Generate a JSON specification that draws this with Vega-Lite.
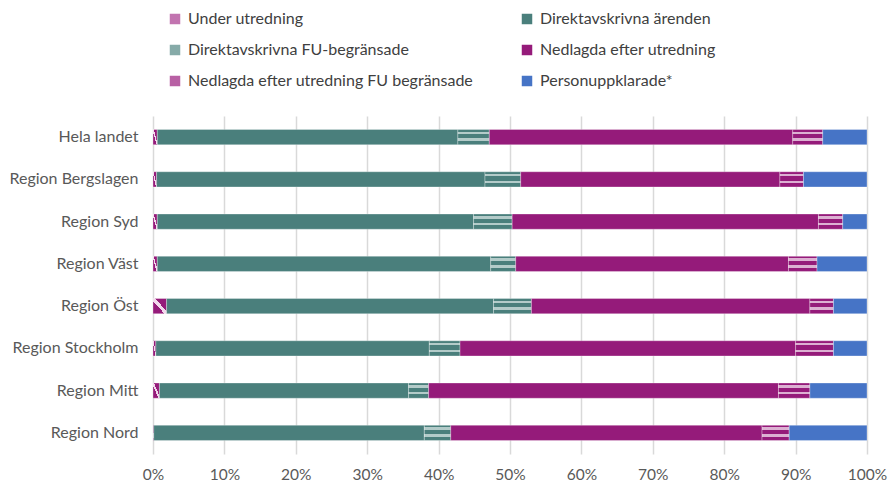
{
  "$schema": "https://vega.github.io/schema/vega-lite/v6.json",
  "width": 714,
  "height": 338,
  "autosize": "none",
  "padding": {"left": 153, "top": 116, "right": 21, "bottom": 30},
  "background": "white",
  "data": {
    "values": [
      {"region": "Hela landet", "cat": "Under utredning", "k": 1, "v": 0.6},
      {"region": "Hela landet", "cat": "Direktavskrivna ärenden", "k": 2, "v": 42.1},
      {"region": "Hela landet", "cat": "Direktavskrivna FU-begränsade", "k": 3, "v": 4.4},
      {"region": "Hela landet", "cat": "Nedlagda efter utredning", "k": 4, "v": 42.5},
      {"region": "Hela landet", "cat": "Nedlagda efter utredning FU begränsade", "k": 5, "v": 4.2},
      {"region": "Hela landet", "cat": "Personuppklarade*", "k": 6, "v": 6.2},
      {"region": "Region Bergslagen", "cat": "Under utredning", "k": 1, "v": 0.5},
      {"region": "Region Bergslagen", "cat": "Direktavskrivna ärenden", "k": 2, "v": 46.0},
      {"region": "Region Bergslagen", "cat": "Direktavskrivna FU-begränsade", "k": 3, "v": 5.0},
      {"region": "Region Bergslagen", "cat": "Nedlagda efter utredning", "k": 4, "v": 36.3},
      {"region": "Region Bergslagen", "cat": "Nedlagda efter utredning FU begränsade", "k": 5, "v": 3.3},
      {"region": "Region Bergslagen", "cat": "Personuppklarade*", "k": 6, "v": 8.9},
      {"region": "Region Syd", "cat": "Under utredning", "k": 1, "v": 0.6},
      {"region": "Region Syd", "cat": "Direktavskrivna ärenden", "k": 2, "v": 44.3},
      {"region": "Region Syd", "cat": "Direktavskrivna FU-begränsade", "k": 3, "v": 5.4},
      {"region": "Region Syd", "cat": "Nedlagda efter utredning", "k": 4, "v": 42.9},
      {"region": "Region Syd", "cat": "Nedlagda efter utredning FU begränsade", "k": 5, "v": 3.4},
      {"region": "Region Syd", "cat": "Personuppklarade*", "k": 6, "v": 3.4},
      {"region": "Region Väst", "cat": "Under utredning", "k": 1, "v": 0.6},
      {"region": "Region Väst", "cat": "Direktavskrivna ärenden", "k": 2, "v": 46.7},
      {"region": "Region Väst", "cat": "Direktavskrivna FU-begränsade", "k": 3, "v": 3.5},
      {"region": "Region Väst", "cat": "Nedlagda efter utredning", "k": 4, "v": 38.2},
      {"region": "Region Väst", "cat": "Nedlagda efter utredning FU begränsade", "k": 5, "v": 4.0},
      {"region": "Region Väst", "cat": "Personuppklarade*", "k": 6, "v": 7.0},
      {"region": "Region Öst", "cat": "Under utredning", "k": 1, "v": 1.9},
      {"region": "Region Öst", "cat": "Direktavskrivna ärenden", "k": 2, "v": 45.8},
      {"region": "Region Öst", "cat": "Direktavskrivna FU-begränsade", "k": 3, "v": 5.3},
      {"region": "Region Öst", "cat": "Nedlagda efter utredning", "k": 4, "v": 39.0},
      {"region": "Region Öst", "cat": "Nedlagda efter utredning FU begränsade", "k": 5, "v": 3.3},
      {"region": "Region Öst", "cat": "Personuppklarade*", "k": 6, "v": 4.7},
      {"region": "Region Stockholm", "cat": "Under utredning", "k": 1, "v": 0.4},
      {"region": "Region Stockholm", "cat": "Direktavskrivna ärenden", "k": 2, "v": 38.3},
      {"region": "Region Stockholm", "cat": "Direktavskrivna FU-begränsade", "k": 3, "v": 4.3},
      {"region": "Region Stockholm", "cat": "Nedlagda efter utredning", "k": 4, "v": 47.0},
      {"region": "Region Stockholm", "cat": "Nedlagda efter utredning FU begränsade", "k": 5, "v": 5.3},
      {"region": "Region Stockholm", "cat": "Personuppklarade*", "k": 6, "v": 4.7},
      {"region": "Region Mitt", "cat": "Under utredning", "k": 1, "v": 0.9},
      {"region": "Region Mitt", "cat": "Direktavskrivna ärenden", "k": 2, "v": 34.9},
      {"region": "Region Mitt", "cat": "Direktavskrivna FU-begränsade", "k": 3, "v": 2.8},
      {"region": "Region Mitt", "cat": "Nedlagda efter utredning", "k": 4, "v": 49.0},
      {"region": "Region Mitt", "cat": "Nedlagda efter utredning FU begränsade", "k": 5, "v": 4.4},
      {"region": "Region Mitt", "cat": "Personuppklarade*", "k": 6, "v": 8.0},
      {"region": "Region Nord", "cat": "Under utredning", "k": 1, "v": 0.1},
      {"region": "Region Nord", "cat": "Direktavskrivna ärenden", "k": 2, "v": 37.9},
      {"region": "Region Nord", "cat": "Direktavskrivna FU-begränsade", "k": 3, "v": 3.7},
      {"region": "Region Nord", "cat": "Nedlagda efter utredning", "k": 4, "v": 43.6},
      {"region": "Region Nord", "cat": "Nedlagda efter utredning FU begränsade", "k": 5, "v": 3.8},
      {"region": "Region Nord", "cat": "Personuppklarade*", "k": 6, "v": 10.9}
    ]
  },
  "mark": {"type": "bar", "stroke": "white", "strokeWidth": 0.5, "strokeOpacity": 0.6},
  "encoding": {
    "y": {
      "field": "region",
      "type": "nominal",
      "sort": null,
      "scale": {"paddingInner": 0.64, "paddingOuter": 0.32},
      "axis": {
        "title": null,
        "ticks": false,
        "domain": false,
        "labelFont": "Lato",
        "labelFontSize": 16,
        "labelColor": "#595959",
        "labelPadding": 15
      }
    },
    "x": {
      "field": "v",
      "type": "quantitative",
      "stack": "normalize",
      "scale": {"domain": [0, 1]},
      "axis": {
        "title": null,
        "format": ".0%",
        "values": [0, 0.1, 0.2, 0.3, 0.4, 0.5, 0.6, 0.7, 0.8, 0.9, 1],
        "grid": true,
        "gridColor": "#d9d9d9",
        "gridWidth": 1.5,
        "ticks": false,
        "domain": false,
        "labelFlush": false,
        "labelFont": "Lato",
        "labelFontSize": 15.5,
        "labelColor": "#595959",
        "labelPadding": 13
      }
    },
    "order": {"field": "k", "type": "quantitative"},
    "color": {
      "field": "cat",
      "type": "nominal",
      "condition": [
        {"test": "datum.cat === 'Under utredning'", "value": {"gradient": "linear", "x1": 0, "y1": 1, "x2": 1, "y2": 0, "stops": [
            {"offset": 0, "color": "#951b7a"}, {"offset": 0.42, "color": "#951b7a"},
            {"offset": 0.42, "color": "#f2d9ec"}, {"offset": 0.58, "color": "#f2d9ec"},
            {"offset": 0.58, "color": "#951b7a"}, {"offset": 1, "color": "#951b7a"}]}},
        {"test": "datum.cat === 'Direktavskrivna FU-begränsade'", "value": {"gradient": "linear", "x1": 0, "y1": 0, "x2": 0, "y2": 1, "stops": [
            {"offset": 0, "color": "#4a7f7c"}, {"offset": 0.14, "color": "#4a7f7c"},
            {"offset": 0.14, "color": "#b3cbc9"}, {"offset": 0.3, "color": "#b3cbc9"},
            {"offset": 0.3, "color": "#4a7f7c"}, {"offset": 0.58, "color": "#4a7f7c"},
            {"offset": 0.58, "color": "#b3cbc9"}, {"offset": 0.74, "color": "#b3cbc9"},
            {"offset": 0.74, "color": "#4a7f7c"}, {"offset": 1, "color": "#4a7f7c"}]}},
        {"test": "datum.cat === 'Nedlagda efter utredning FU begränsade'", "value": {"gradient": "linear", "x1": 0, "y1": 0, "x2": 0, "y2": 1, "stops": [
            {"offset": 0, "color": "#951b7a"}, {"offset": 0.14, "color": "#951b7a"},
            {"offset": 0.14, "color": "#dcb0d2"}, {"offset": 0.3, "color": "#dcb0d2"},
            {"offset": 0.3, "color": "#951b7a"}, {"offset": 0.58, "color": "#951b7a"},
            {"offset": 0.58, "color": "#dcb0d2"}, {"offset": 0.74, "color": "#dcb0d2"},
            {"offset": 0.74, "color": "#951b7a"}, {"offset": 1, "color": "#951b7a"}]}}
      ],
      "scale": {
        "domain": ["Under utredning", "Direktavskrivna ärenden", "Direktavskrivna FU-begränsade", "Nedlagda efter utredning", "Nedlagda efter utredning FU begränsade", "Personuppklarade*"],
        "range": ["#c274b0", "#4a7f7c", "#86aaa8", "#951b7a", "#b860a4", "#4674c6"]
      },
      "legend": {
        "title": null,
        "orient": "none",
        "legendX": 14,
        "legendY": -105,
        "direction": "horizontal",
        "columns": 2,
        "columnPadding": 45,
        "rowPadding": 15,
        "symbolType": "square",
        "symbolSize": 110,
        "symbolStrokeWidth": 0,
        "labelFont": "Lato",
        "labelFontSize": 16,
        "labelColor": "#404040",
        "labelOffset": 5,
        "labelLimit": 400
      }
    }
  },
  "config": {"view": {"stroke": null}}
}
